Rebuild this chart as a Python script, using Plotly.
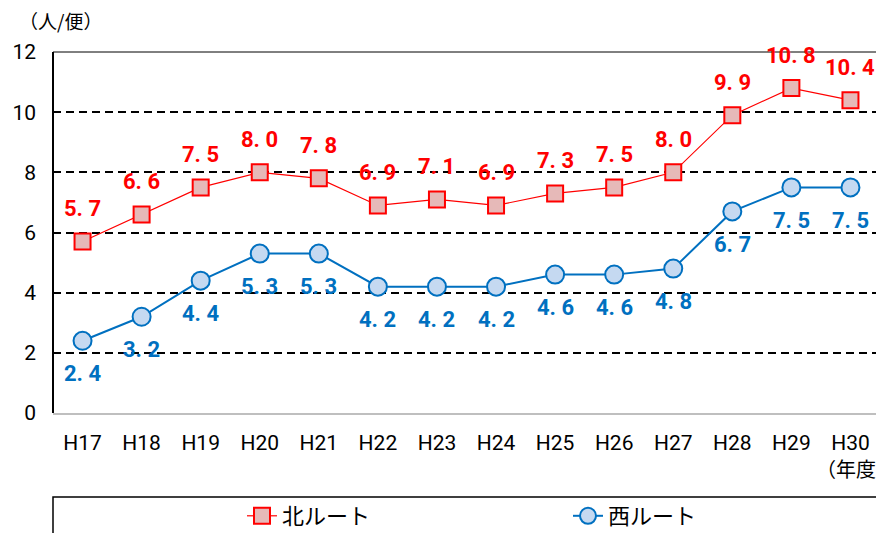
import plotly.graph_objects as go

years = ["H17", "H18", "H19", "H20", "H21", "H22", "H23", "H24", "H25", "H26", "H27", "H28", "H29", "H30"]
north = [5.7, 6.6, 7.5, 8.0, 7.8, 6.9, 7.1, 6.9, 7.3, 7.5, 8.0, 9.9, 10.8, 10.4]
west = [2.4, 3.2, 4.4, 5.3, 5.3, 4.2, 4.2, 4.2, 4.6, 4.6, 4.8, 6.7, 7.5, 7.5]
yticks = [0, 2, 4, 6, 8, 10, 12]
north_name = "北ルート"
west_name = "西ルート"
y_unit = "（人/便）"
x_unit = "（年度）"

RED = "#FF0000"
BLUE = "#0070C0"
OFF = 8  # page body margin
W, H = 884 - OFF, 533 - OFF
L, R, T, B = 53 - OFF, 4, 52 - OFF, 120
pw, ph = W - L - R, H - T - B

def px2paper_x(px):
    return (px - OFF - L) / pw

def px2paper_y(py):
    return (H - B - (py - OFF)) / ph

LBL_FONT = "Roboto, sans-serif"
TXT_FONT = "Noto Sans CJK JP, sans-serif"

fig = go.Figure()
fig.add_trace(go.Scatter(
    x=years, y=north, name=north_name, mode="lines+markers",
    line=dict(color=RED, width=1.2),
    marker=dict(symbol="square", size=16, color="#E6B9B8", line=dict(color=RED, width=2)),
))
fig.add_trace(go.Scatter(
    x=years, y=west, name=west_name, mode="lines+markers",
    line=dict(color=BLUE, width=2),
    marker=dict(symbol="circle", size=18, color="#C5D9F1", line=dict(color=BLUE, width=2)),
))

annotations = []
for yr, v in zip(years, north):
    annotations.append(dict(x=yr, y=v, xref="x", yref="y", text=f"{v:.1f}".replace(".", ". "),
                            showarrow=False, yshift=33,
                            font=dict(family=LBL_FONT, size=22, color=RED, weight="bold")))
for yr, v in zip(years, west):
    annotations.append(dict(x=yr, y=v, xref="x", yref="y", text=f"{v:.1f}".replace(".", ". "),
                            showarrow=False, yshift=-33,
                            font=dict(family=LBL_FONT, size=22, color=BLUE, weight="bold")))
annotations.append(dict(x=px2paper_x(60), y=px2paper_y(21), xref="paper", yref="paper",
                        text=y_unit, showarrow=False, xanchor="center", yanchor="middle",
                        font=dict(family=TXT_FONT, size=19, color="black")))
annotations.append(dict(x=px2paper_x(814), y=px2paper_y(468), xref="paper", yref="paper",
                        text=x_unit, showarrow=False, xanchor="left", yanchor="middle",
                        font=dict(family=TXT_FONT, size=20, color="black")))

shapes = [
    dict(type="line", xref="paper", yref="paper", x0=0, x1=0, y0=0, y1=1, line=dict(color="black", width=2)),
    dict(type="line", xref="paper", yref="paper", x0=1, x1=1, y0=0, y1=1, line=dict(color="black", width=2)),
    dict(type="line", xref="paper", yref="paper", x0=0, x1=1, y0=1, y1=1, line=dict(color="black", width=1)),
    dict(type="rect", xref="paper", yref="paper", x0=0, x1=px2paper_x(878),
         y0=px2paper_y(497), y1=px2paper_y(560), line=dict(color="black", width=1.5)),
]

fig.update_layout(
    width=W, height=H,
    margin=dict(l=L, r=R, t=T, b=B, pad=0, autoexpand=False),
    plot_bgcolor="white", paper_bgcolor="white",
    font=dict(family=TXT_FONT, size=18, color="black"),
    showlegend=True,
    legend=dict(orientation="h", x=px2paper_x(242), y=px2paper_y(516), xanchor="left", yanchor="middle",
                font=dict(family=TXT_FONT, size=22, color="black"),
                entrywidth=281, entrywidthmode="pixels", bgcolor="rgba(0,0,0,0)"),
    annotations=annotations,
    shapes=shapes,
    xaxis=dict(type="category", range=[-0.5, len(years) - 0.5], showgrid=False,
               showline=True, linecolor="#BFBFBF", linewidth=2, ticks="",
               ticklabelstandoff=10, automargin=False,
               tickfont=dict(family=LBL_FONT, size=21, color="black")),
    yaxis=dict(range=[0, 12], tickvals=yticks, showgrid=True, gridcolor="black", gridwidth=1.5,
               griddash="8px,5px", zeroline=False, showline=False, ticks="",
               ticklabelstandoff=16, automargin=False,
               tickfont=dict(family=LBL_FONT, size=21, color="black")),
)

fig.write_html("out.html")
